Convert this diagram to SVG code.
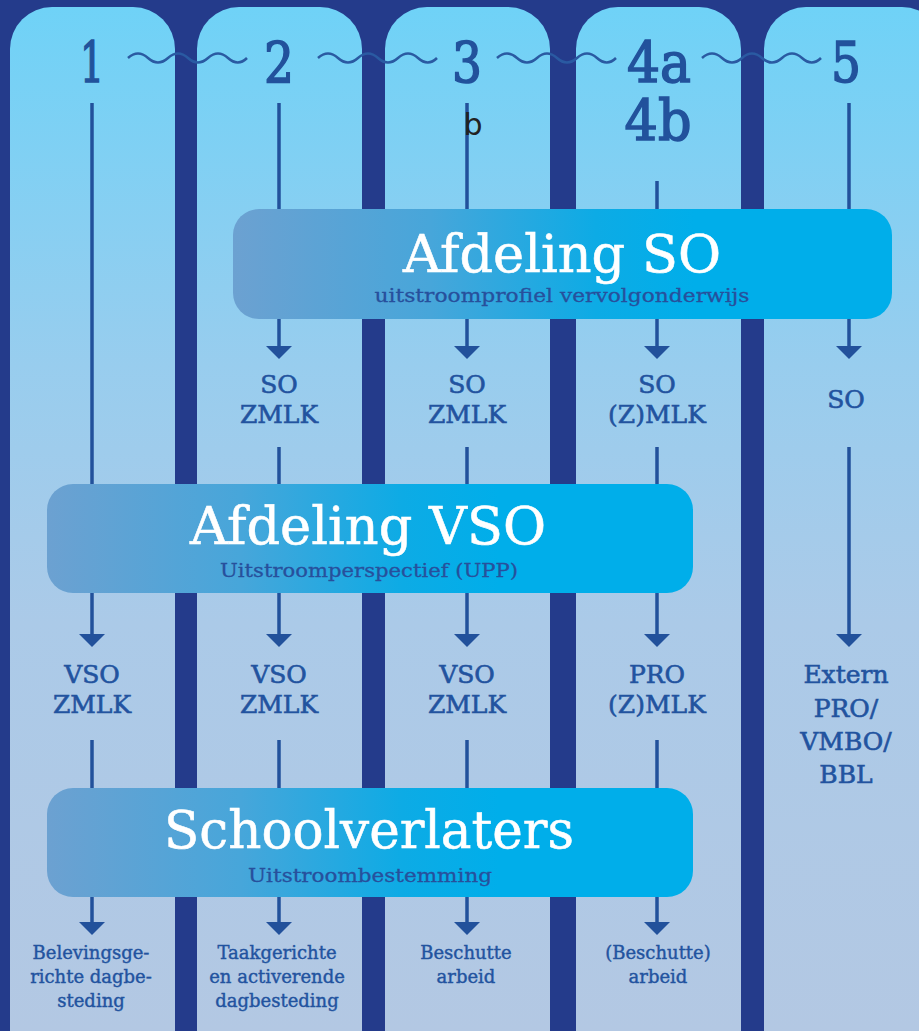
<svg xmlns="http://www.w3.org/2000/svg" width="919" height="1031" viewBox="0 0 919 1031">
<defs>
<linearGradient id="colg" gradientUnits="userSpaceOnUse" x1="0" y1="7" x2="0" y2="1031">
<stop offset="0" stop-color="#6fd2f7"/>
<stop offset="0.35" stop-color="#98cdee"/>
<stop offset="0.6" stop-color="#abcae8"/>
<stop offset="1" stop-color="#b3c8e3"/>
</linearGradient>
<linearGradient id="boxg" x1="0" y1="0" x2="1" y2="0">
<stop offset="0" stop-color="#6ca1d1"/>
<stop offset="0.3" stop-color="#47a6da"/>
<stop offset="0.55" stop-color="#0dabe5"/>
<stop offset="0.7" stop-color="#00aeea"/>
<stop offset="1" stop-color="#00aeea"/>
</linearGradient>
<marker id="arr" viewBox="0 0 13 26" refX="7" refY="13" markerWidth="13" markerHeight="26" markerUnits="userSpaceOnUse" orient="auto">
<path d="M0,0 L13,13 L0,26 z" fill="#22519b"/>
</marker>
<style>
.col{fill:url(#colg)}
.box{fill:url(#boxg)}
.num{font-family:"DejaVu Serif",serif;font-size:56px;fill:#22529c;stroke:#22529c;stroke-width:1.6;text-anchor:middle}
.title{font-family:"DejaVu Serif",serif;font-size:53px;fill:#ffffff;stroke:#ffffff;stroke-width:0.6;text-anchor:middle}
.sub{font-family:"DejaVu Serif",serif;font-size:19px;fill:#27509c;stroke:#27509c;stroke-width:0.3;text-anchor:middle}
.lbl{font-family:"DejaVu Serif",serif;font-size:25px;fill:#22539f;stroke:#22539f;stroke-width:0.6;text-anchor:middle}
.sm{font-family:"DejaVu Serif",serif;font-size:18px;fill:#22539f;stroke:#22539f;stroke-width:0.4;text-anchor:middle}
.ln{stroke:#22519b;stroke-width:3.5;fill:none}
.arrow{stroke:#22519b;stroke-width:3.5;fill:none;marker-end:url(#arr)}
.wave{stroke:#2a5aa2;stroke-width:2.5;fill:none}
</style>
</defs>
<rect x="0" y="0" width="919" height="1031" fill="#243b8b"/>
<g id="columns">
<rect class="col" x="10" y="7" width="165" height="1100" rx="42"/>
<rect class="col" x="197" y="7" width="165" height="1100" rx="42"/>
<rect class="col" x="385" y="7" width="165" height="1100" rx="42"/>
<rect class="col" x="576" y="7" width="165" height="1100" rx="42"/>
<rect class="col" x="764" y="7" width="180" height="1100" rx="42"/>
</g>
<g id="waves">
<path class="wave" d="M128,58 q10,-9 20,0 t20,0 t20,0 t20,0 t20,0 t19,0"/>
<path class="wave" d="M318,58 q10,-9 20,0 t20,0 t20,0 t20,0 t20,0 t19,0"/>
<path class="wave" d="M497,58 q10,-9 20,0 t20,0 t20,0 t20,0 t20,0 t19,0"/>
<path class="wave" d="M702,58 q10,-9 20,0 t20,0 t20,0 t20,0 t20,0 t19,0"/>
</g>
<g id="connectors">
<line class="arrow" x1="92" y1="103" x2="92" y2="641"/>
<line class="arrow" x1="92" y1="740" x2="92" y2="929"/>
<line class="arrow" x1="279" y1="103" x2="279" y2="353"/>
<line class="arrow" x1="279" y1="447" x2="279" y2="641"/>
<line class="arrow" x1="279" y1="740" x2="279" y2="929"/>
<line class="arrow" x1="467" y1="103" x2="467" y2="353"/>
<line class="arrow" x1="467" y1="447" x2="467" y2="641"/>
<line class="arrow" x1="467" y1="740" x2="467" y2="929"/>
<line class="arrow" x1="657" y1="181" x2="657" y2="353"/>
<line class="arrow" x1="657" y1="447" x2="657" y2="641"/>
<line class="arrow" x1="657" y1="740" x2="657" y2="929"/>
<line class="arrow" x1="849" y1="103" x2="849" y2="353"/>
<line class="arrow" x1="849" y1="447" x2="849" y2="641"/>
</g>
<g id="headers">
<text class="num" x="92" y="82" textLength="24" lengthAdjust="spacingAndGlyphs">1</text>
<text class="num" x="279" y="82" textLength="30" lengthAdjust="spacingAndGlyphs">2</text>
<text class="num" x="467" y="82" textLength="30" lengthAdjust="spacingAndGlyphs">3</text>
<text class="num"><tspan x="659" y="82" textLength="64" lengthAdjust="spacingAndGlyphs">4a</tspan><tspan x="658" y="140" textLength="67" lengthAdjust="spacingAndGlyphs">4b</tspan></text>
<text class="num" x="846" y="82" textLength="30" lengthAdjust="spacingAndGlyphs">5</text>
<text x="463.5" y="135" font-family="DejaVu Sans, sans-serif" font-size="30" fill="#222222">b</text>
</g>
<g id="afdeling-so">
<rect class="box" x="233" y="209" width="659" height="110" rx="26"/>
<text class="title" x="562" y="272" textLength="318" lengthAdjust="spacingAndGlyphs">Afdeling SO</text>
<text class="sub" x="562" y="302" textLength="375" lengthAdjust="spacingAndGlyphs">uitstroomprofiel vervolgonderwijs</text>
</g>
<g id="afdeling-vso">
<rect class="box" x="47" y="484" width="646" height="109" rx="26"/>
<text class="title" x="368" y="544" textLength="356" lengthAdjust="spacingAndGlyphs">Afdeling VSO</text>
<text class="sub" x="369" y="577" textLength="298" lengthAdjust="spacingAndGlyphs">Uitstroomperspectief (UPP)</text>
</g>
<g id="schoolverlaters">
<rect class="box" x="47" y="788" width="646" height="109" rx="26"/>
<text class="title" x="369" y="848" textLength="410" lengthAdjust="spacingAndGlyphs">Schoolverlaters</text>
<text class="sub" x="370" y="882" textLength="244" lengthAdjust="spacingAndGlyphs">Uitstroombestemming</text>
</g>
<g id="so-2"><text class="lbl" x="279" y="393">SO</text><text class="lbl" x="279" y="423">ZMLK</text></g>
<g id="so-3"><text class="lbl" x="467" y="393">SO</text><text class="lbl" x="467" y="423">ZMLK</text></g>
<g id="so-4"><text class="lbl" x="657" y="393">SO</text><text class="lbl" x="657" y="423">(Z)MLK</text></g>
<g id="so-5"><text class="lbl" x="846" y="408">SO</text></g>
<g id="vso-1"><text class="lbl" x="92" y="683">VSO</text><text class="lbl" x="92" y="713">ZMLK</text></g>
<g id="vso-2"><text class="lbl" x="279" y="683">VSO</text><text class="lbl" x="279" y="713">ZMLK</text></g>
<g id="vso-3"><text class="lbl" x="467" y="683">VSO</text><text class="lbl" x="467" y="713">ZMLK</text></g>
<g id="pro-4"><text class="lbl" x="657" y="683">PRO</text><text class="lbl" x="657" y="713">(Z)MLK</text></g>
<g id="extern-5">
<text class="lbl" x="846" y="683">Extern</text>
<text class="lbl" x="846" y="717">PRO/</text>
<text class="lbl" x="846" y="750">VMBO/</text>
<text class="lbl" x="846" y="783">BBL</text>
</g>
<g id="out-1">
<text class="sm" x="91" y="959">Belevingsge-</text>
<text class="sm" x="91" y="983">richte dagbe-</text>
<text class="sm" x="91" y="1007">steding</text>
</g>
<g id="out-2">
<text class="sm" x="277" y="959">Taakgerichte</text>
<text class="sm" x="277" y="983">en activerende</text>
<text class="sm" x="277" y="1007">dagbesteding</text>
</g>
<g id="out-3">
<text class="sm" x="466" y="959">Beschutte</text>
<text class="sm" x="466" y="983">arbeid</text>
</g>
<g id="out-4">
<text class="sm" x="658" y="959">(Beschutte)</text>
<text class="sm" x="658" y="983">arbeid</text>
</g>
</svg>
